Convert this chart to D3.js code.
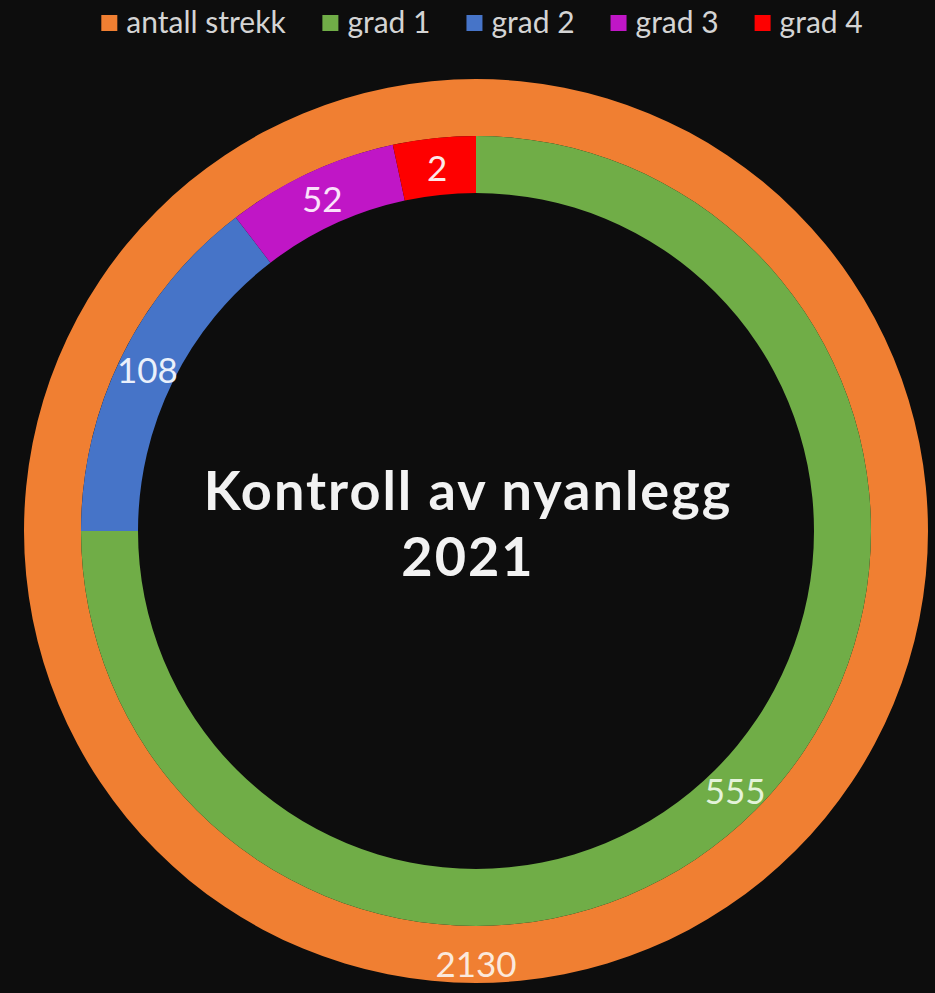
<!DOCTYPE html>
<html><head><meta charset="utf-8">
<script src="https://cdn.jsdelivr.net/npm/d3@7"></script>
<style>
html,body{margin:0;padding:0;background:#0d0d0d;}
svg{display:block;}
text{font-family:Lato,"Open Sans",sans-serif;}
</style></head>
<body>
<svg id="chart" width="935" height="993"></svg>
<script>
// ---- data ----
const legendCategories = ["antall strekk", "grad 1", "grad 2", "grad 3", "grad 4"];
const outerCategories = ["antall strekk"];
const outerValues = [2130];
const innerCategories = ["grad 1", "grad 2", "grad 3", "grad 4"];
const innerValues = [555, 108, 52, 2];          // printed data labels
const innerSliceSizes = [555, 108, 52, 25];     // slice sizes as drawn in the picture
const titleLines = ["Kontroll av nyanlegg", "2021"];

// ---- styles ----
const colors = {
  "antall strekk": "#f07f32",
  "grad 1": "#70ad47",
  "grad 2": "#4674c8",
  "grad 3": "#c016c6",
  "grad 4": "#fe0000"
};
const labelColors = {
  "antall strekk": "#fbe9dc",
  "grad 1": "#e4f3da",
  "grad 2": "#eaf0fb",
  "grad 3": "#fbe2fb",
  "grad 4": "#fde8e8"
};

const svg = d3.select("#chart");
const W = 935, H = 993;
svg.append("rect").attr("width", W).attr("height", H).attr("fill", "#0d0d0d");

const cx = 476, cy = 531;
const rOuter = 452, rMid = 395, rInner = 338;

const g = svg.append("g").attr("transform", `translate(${cx},${cy})`);

const pie = d3.pie().sort(null).value(d => d.size).startAngle(0).endAngle(2 * Math.PI);

// outer ring
const outerData = outerCategories.map((c, i) => ({cat: c, size: outerValues[i], label: outerValues[i]}));
const outerArc = d3.arc().innerRadius(rMid).outerRadius(rOuter);
const outerArcs = pie(outerData);
g.selectAll("path.outer").data(outerArcs).join("path")
  .attr("class", "outer")
  .attr("d", outerArc)
  .attr("fill", d => colors[d.data.cat]);

// inner ring
const innerData = innerCategories.map((c, i) => ({cat: c, size: innerSliceSizes[i], label: innerValues[i]}));
const innerArc = d3.arc().innerRadius(rInner).outerRadius(rMid);
const innerArcs = pie(innerData);
g.selectAll("path.inner").data(innerArcs).join("path")
  .attr("class", "inner")
  .attr("d", innerArc)
  .attr("fill", d => colors[d.data.cat]);

const labelSize = 35;
// inner labels
g.selectAll("text.ilab").data(innerArcs).join("text")
  .attr("class", "ilab")
  .attr("x", d => innerArc.centroid(d)[0])
  .attr("y", d => innerArc.centroid(d)[1])
  .attr("text-anchor", "middle")
  .attr("dominant-baseline", "central")
  .attr("font-size", labelSize)
  .attr("fill", d => labelColors[d.data.cat])
  .text(d => d.data.label);

// outer label (full ring -> centroid at bottom)
g.selectAll("text.olab").data(outerArcs).join("text")
  .attr("class", "olab")
  .attr("x", d => { const a = (d.startAngle + d.endAngle) / 2; return Math.sin(a) * (rMid + rOuter) / 2; })
  .attr("y", d => { const a = (d.startAngle + d.endAngle) / 2; return -Math.cos(a) * (rMid + rOuter) / 2 + 8; })
  .attr("text-anchor", "middle")
  .attr("dominant-baseline", "central")
  .attr("font-size", labelSize)
  .attr("fill", d => labelColors[d.data.cat])
  .text(d => d.data.label);

// title
const title = svg.append("text")
  .attr("text-anchor", "middle")
  .attr("font-weight", 700)
  .attr("font-size", 54)
  .attr("letter-spacing", 2)
  .attr("fill", "#f2f2f2");
title.selectAll("tspan").data(titleLines).join("tspan")
  .attr("x", 468)
  .attr("y", (d, i) => 510 + i * 66)
  .text(d => d);

// legend
const legendFont = 30;
const sq = 16, sqGap = 9, itemGap = 36;
const legend = svg.append("g");
const items = legend.selectAll("g").data(legendCategories).join("g");
items.append("rect").attr("width", sq).attr("height", sq).attr("y", 15)
  .attr("fill", d => colors[d]);
items.append("text").attr("x", sq + sqGap).attr("y", 33)
  .attr("font-size", legendFont).attr("fill", "#d4d4d4").text(d => d);
let x = 0; const widths = [];
items.each(function() { widths.push(this.getBBox().width); });
const total = d3.sum(widths) + itemGap * (widths.length - 1);
x = 482 - total / 2;
items.attr("transform", (d, i) => { const t = `translate(${x},0)`; x += widths[i] + itemGap; return t; });
</script>
</body></html>
